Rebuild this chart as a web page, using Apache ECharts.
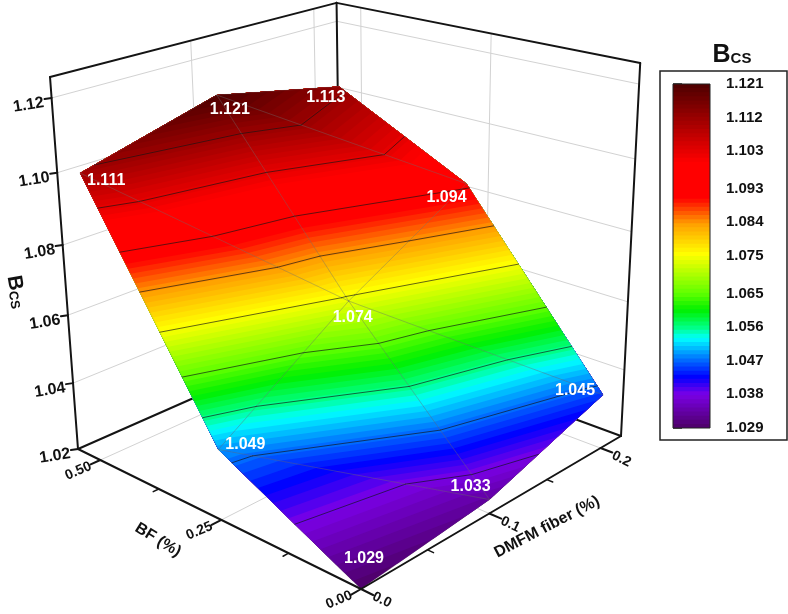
<!DOCTYPE html>
<html>
<head>
<meta charset="utf-8">
<style>
  html, body { margin: 0; background: #fff; }
  #chart { width: 788px; height: 614px; }
</style>
<script src="https://cdn.jsdelivr.net/npm/echarts@6/dist/echarts.min.js"></script>
</head>
<body>
<div id="chart"></div>
<script>
// values
const bfValues = [0, 0.25, 0.5]
const fiberValues = [0, 0.1, 0.2]
const bcsAtBf0 = [1.029, 1.033, 1.045]
const bcsAtBf25 = [1.049, 1.074, 1.094]
const bcsAtBf50 = [1.111, 1.121, 1.113]
const bcsRows = [bcsAtBf0, bcsAtBf25, bcsAtBf50]

const bfTicks = ['0.00', '0.25', '0.50']
const bfMinorTicks = [0.125, 0.375]
const fiberTicks = ['0.0', '0.1', '0.2']
const fiberMinorTicks = [0.05, 0.15]
const bcsTicks = ['1.02', '1.04', '1.06', '1.08', '1.10', '1.12']
const colorbarTicks = [1.029, 1.038, 1.047, 1.056, 1.065, 1.075, 1.084, 1.093, 1.103, 1.112, 1.121]

// colormap
const stopValues = [1.029, 1.038, 1.0426, 1.0480, 1.0530, 1.0560, 1.0605, 1.0650, 1.0755, 1.0835, 1.0905, 1.1000, 1.121]
const stopColors = ['#4d0066', '#7a00e6', '#0000ff', '#0080ff', '#00ffff', '#00ff80', '#00f000', '#60ff00', '#ffff00', '#ffa000', '#ff0000', '#ff0000', '#4d0000']
const bandCount = 84

// axis ranges of the box
const bfRange = [0, 0.55]
const fiberRange = [0, 0.22]
const bcsRange = [1.02, 1.1255]
// in the picture the lowest value sits on the floor, not at its axis height
const surfaceDrop = 0.009

// perspective of the box, from its corners in the picture
const cornerFront = [361, 589]
const cornerLeft = [78, 449]
const cornerBack = [341, 333]
const cornerRight = [621, 436]
const cornerLeftTop = [50, 77]
const vanishing = [400, 4728]

const dx1 = cornerLeft[0] - cornerBack[0], dx2 = cornerRight[0] - cornerBack[0]
const dy1 = cornerLeft[1] - cornerBack[1], dy2 = cornerRight[1] - cornerBack[1]
const sx = cornerFront[0] - cornerLeft[0] + cornerBack[0] - cornerRight[0]
const sy = cornerFront[1] - cornerLeft[1] + cornerBack[1] - cornerRight[1]
const den = dx1 * dy2 - dx2 * dy1
const g = (sx * dy2 - dx2 * sy) / den
const h = (dx1 * sy - sx * dy1) / den
const a = cornerLeft[0] - cornerFront[0] + g * cornerLeft[0]
const b = cornerRight[0] - cornerFront[0] + h * cornerRight[0]
const d = cornerLeft[1] - cornerFront[1] + g * cornerLeft[1]
const e = cornerRight[1] - cornerFront[1] + h * cornerRight[1]
const k = (cornerLeftTop[1] * (g + 1) - (d + cornerFront[1])) / (vanishing[1] - cornerLeftTop[1])

function project(bf, fiber, bcs) {
  const u = (bf - bfRange[0]) / (bfRange[1] - bfRange[0])
  const v = (fiber - fiberRange[0]) / (fiberRange[1] - fiberRange[0])
  const w = (bcs - bcsRange[0]) / (bcsRange[1] - bcsRange[0])
  const q = g * u + h * v + 1 + k * w
  return [
    (a * u + b * v + cornerFront[0] + k * vanishing[0] * w) / q,
    (d * u + e * v + cornerFront[1] + k * vanishing[1] * w) / q
  ]
}

function colorAt(value) {
  let i = 0
  while (i < stopValues.length - 2 && value > stopValues[i + 1]) i++
  const t = Math.min(1, Math.max(0, (value - stopValues[i]) / (stopValues[i + 1] - stopValues[i])))
  const c0 = echarts.color.parse(stopColors[i])
  const c1 = echarts.color.parse(stopColors[i + 1])
  return 'rgb(' + [0, 1, 2].map(n => Math.round(c0[n] + (c1[n] - c0[n]) * t)).join(',') + ')'
}

const bcsMin = colorbarTicks[0]
const bcsMax = colorbarTicks[colorbarTicks.length - 1]
const bands = []
for (let i = 0; i < bandCount; i++) {
  const lo = bcsMin + (bcsMax - bcsMin) * i / bandCount
  const hi = bcsMin + (bcsMax - bcsMin) * (i + 1) / bandCount
  bands.push([lo, hi])
}

// each grid cell is cut in two along the same diagonal as the mesh in the picture
const triangles = []
for (let i = 0; i < bfValues.length - 1; i++) {
  for (let j = 0; j < fiberValues.length - 1; j++) {
    const node = (r, c) => [bfValues[r], fiberValues[c], bcsRows[r][c]]
    triangles.push([node(i, j), node(i + 1, j), node(i, j + 1)])
    triangles.push([node(i + 1, j), node(i + 1, j + 1), node(i, j + 1)])
  }
}

function clipAbove(poly, level) {
  const out = []
  for (let i = 0; i < poly.length; i++) {
    const p = poly[i], n = poly[(i + 1) % poly.length]
    const pIn = p[2] >= level
    const nIn = n[2] >= level
    if (pIn) out.push(p)
    if (pIn !== nIn) {
      const t = (level - p[2]) / (n[2] - p[2])
      out.push([p[0] + (n[0] - p[0]) * t, p[1] + (n[1] - p[1]) * t, level])
    }
  }
  return out
}

function toCanvas(api, bf, fiber, bcs) {
  return api.coord(project(bf, fiber, bcs))
}

function surfaceCanvas(api, p) {
  return toCanvas(api, p[0], p[1], p[2] - surfaceDrop)
}

function segment(p0, p1, color, width) {
  return {
    type: 'line',
    shape: { x1: p0[0], y1: p0[1], x2: p1[0], y2: p1[1] },
    style: { stroke: color, lineWidth: width, lineCap: 'round' }
  }
}

function line(api, from, to, color, width) {
  return segment(toCanvas(api, from[0], from[1], from[2]), toCanvas(api, to[0], to[1], to[2]), color, width)
}

function label(x, y, text, size, rotation, fill) {
  return {
    type: 'text',
    x: x,
    y: y,
    rotation: rotation,
    style: {
      text: text,
      fill: fill || '#111',
      font: 'bold ' + size + 'px "Liberation Sans", Arial, sans-serif',
      align: 'center',
      verticalAlign: 'middle'
    }
  }
}

const bfMax = bfRange[1], fiberMax = fiberRange[1], zLow = bcsRange[0], zTop = bcsRange[1]
const wallColor = '#d2d2d2'
const frameColor = '#141414'

// walls, floor and the back edges, all behind the surface
function renderBack(params, api) {
  const children = []
  bcsTicks.slice(1).forEach(t => {
    const z = +t
    children.push(line(api, [bfMax, 0, z], [bfMax, fiberMax, z], wallColor, 1))
    children.push(line(api, [bfMax, fiberMax, z], [0, fiberMax, z], wallColor, 1))
  })
  fiberTicks.slice(1).forEach(t => {
    children.push(line(api, [bfMax, +t, zLow], [bfMax, +t, zTop], wallColor, 1))
    children.push(line(api, [0, +t, zLow], [bfMax, +t, zLow], wallColor, 1))
  })
  bfTicks.slice(1).forEach(t => {
    children.push(line(api, [+t, fiberMax, zLow], [+t, fiberMax, zTop], wallColor, 1))
    children.push(line(api, [+t, 0, zLow], [+t, fiberMax, zLow], wallColor, 1))
  })
  children.push(line(api, [bfMax, 0, zLow], [bfMax, fiberMax, zLow], frameColor, 2))
  children.push(line(api, [0, fiberMax, zLow], [bfMax, fiberMax, zLow], frameColor, 2))
  children.push(line(api, [bfMax, fiberMax, zLow], [bfMax, fiberMax, zTop], frameColor, 2))
  children.push(line(api, [bfMax, 0, zTop], [bfMax, fiberMax, zTop], frameColor, 2))
  children.push(line(api, [0, fiberMax, zTop], [bfMax, fiberMax, zTop], frameColor, 2))
  return { type: 'group', children: children }
}

// one colour band over the whole surface, painted from the lowest band up
function renderBand(params, api) {
  const band = bands[params.dataIndex]
  const color = colorAt((band[0] + band[1]) / 2)
  const children = []
  triangles.forEach(tri => {
    const poly = clipAbove(tri, band[0])
    if (poly.length < 3) return
    children.push({
      type: 'polygon',
      shape: { points: poly.map(p => surfaceCanvas(api, p)) },
      style: { fill: color }
    })
  })
  return { type: 'group', children: children }
}

// contour lines at the colorbar ticks, and the thin mesh
function renderLines(params, api) {
  const tri = triangles[params.dataIndex]
  const children = []
  colorbarTicks.slice(1, -1).forEach(level => {
    const hits = []
    for (let i = 0; i < 3; i++) {
      const p = tri[i], n = tri[(i + 1) % 3]
      if ((p[2] < level) !== (n[2] < level)) {
        const t = (level - p[2]) / (n[2] - p[2])
        hits.push([p[0] + (n[0] - p[0]) * t, p[1] + (n[1] - p[1]) * t, level])
      }
    }
    if (hits.length === 2) {
      children.push(segment(surfaceCanvas(api, hits[0]), surfaceCanvas(api, hits[1]), 'rgba(20,20,20,0.65)', 1))
    }
  })
  for (let i = 0; i < 3; i++) {
    children.push(segment(surfaceCanvas(api, tri[i]), surfaceCanvas(api, tri[(i + 1) % 3]), 'rgba(110,110,110,0.22)', 1))
  }
  return { type: 'group', children: children }
}

// offsets of the white value labels from their nodes
const valueLabelOffsets = [
  [[3, -30], [-19, -13], [-28, -4]],
  [[27, -5], [4, 17], [-20, 14]],
  [[26, 7], [13, 15], [-13, 11]]
]

function renderValueLabels(params, api) {
  const children = []
  bfValues.forEach((bf, r) => {
    fiberValues.forEach((fiber, c) => {
      const p = surfaceCanvas(api, [bf, fiber, bcsRows[r][c]])
      const off = valueLabelOffsets[r][c]
      children.push(label(p[0] + off[0], p[1] + off[1], bcsRows[r][c].toFixed(3), 16, 0, '#fff'))
    })
  })
  return { type: 'group', children: children }
}

// the two front floor edges, the uprights, ticks and tick labels
function renderFront(params, api) {
  const children = []
  children.push(line(api, [0, 0, zLow], [bfMax, 0, zLow], frameColor, 2))
  children.push(line(api, [0, 0, zLow], [0, fiberMax, zLow], frameColor, 2))
  children.push(line(api, [bfMax, 0, zLow], [bfMax, 0, zTop], frameColor, 2))
  children.push(line(api, [0, fiberMax, zLow], [0, fiberMax, zTop], frameColor, 2))

  bcsTicks.forEach(t => {
    const p = toCanvas(api, bfMax, 0, +t)
    children.push(segment(p, [p[0] - 7, p[1] + 1], frameColor, 2))
    children.push(label(p[0] - 23, p[1] + 7, t, 16, 0.16))
  })
  bfTicks.forEach(t => {
    const p = toCanvas(api, +t, 0, zLow)
    children.push(line(api, [+t, 0, zLow], [+t, -0.007, zLow], frameColor, 2))
    children.push(label(p[0] - 22, p[1] + 11, t, 14, 0.4))
  })
  bfMinorTicks.forEach(t => {
    children.push(line(api, [t, 0, zLow], [t, -0.004, zLow], frameColor, 1.5))
  })
  fiberTicks.forEach(t => {
    const p = toCanvas(api, 0, +t, zLow)
    children.push(line(api, [0, +t, zLow], [-0.02, +t, zLow], frameColor, 2))
    children.push(label(p[0] + 21, p[1] + 11, t, 14, -0.45))
  })
  fiberMinorTicks.forEach(t => {
    children.push(line(api, [0, t, zLow], [-0.01, t, zLow], frameColor, 1.5))
  })

  children.push(label(158, 540, 'BF (%)', 16, -0.55))
  children.push(label(547, 527, 'DMFM fiber (%)', 16, 0.48))
  children.push({
    type: 'text',
    x: 16,
    y: 292,
    rotation: -1.4,
    style: {
      text: '{b|B}{c|CS}',
      align: 'center',
      verticalAlign: 'middle',
      rich: {
        b: { font: 'bold 21px "Liberation Sans", Arial, sans-serif', fill: '#111' },
        c: { font: 'bold 13px "Liberation Sans", Arial, sans-serif', fill: '#111', padding: [7, 0, 0, 0] }
      }
    }
  })
  return { type: 'group', children: children }
}

// colorbar bands are painted from each band's low end to the top of the bar
function renderColorbar(params, api) {
  const band = bands[params.dataIndex]
  const p0 = api.coord([0, band[0]])
  const p1 = api.coord([1, bcsMax])
  return {
    type: 'rect',
    shape: { x: p0[0], y: p1[1], width: p1[0] - p0[0], height: p0[1] - p1[1] },
    style: { fill: colorAt((band[0] + band[1]) / 2) }
  }
}

function renderColorbarEdge(params, api) {
  const p0 = api.coord([0, bcsMin])
  const p1 = api.coord([1, bcsMax])
  return {
    type: 'rect',
    shape: { x: p0[0], y: p1[1], width: p1[0] - p0[0], height: p0[1] - p1[1] },
    style: { fill: 'none', stroke: '#222', lineWidth: 1 }
  }
}

const myChart = echarts.init(document.getElementById('chart'))
const sceneSeries = { type: 'custom', coordinateSystem: 'cartesian2d', xAxisIndex: 0, yAxisIndex: 0, clip: false, silent: true, animation: false }

myChart.setOption({
  animation: false,
  backgroundColor: '#fff',
  title: {
    text: '{b|B}{c|CS}',
    left: 727,
    top: 38,
    textAlign: 'center',
    textStyle: {
      rich: {
        b: { fontFamily: 'Liberation Sans', fontWeight: 'bold', fontSize: 25, color: '#111' },
        c: { fontFamily: 'Liberation Sans', fontWeight: 'bold', fontSize: 15, color: '#111', padding: [7, 0, 0, 0] }
      }
    }
  },
  graphic: [{
    type: 'rect',
    shape: { x: 660, y: 71, width: 127, height: 369 },
    style: { fill: 'none', stroke: '#222', lineWidth: 1.5 }
  }],
  grid: [
    { left: 0, top: 0, right: 0, bottom: 0 },
    { left: 673, top: 84, width: 37, height: 344 }
  ],
  xAxis: [
    { type: 'value', gridIndex: 0, min: 0, max: 788, show: false },
    { type: 'value', gridIndex: 1, min: 0, max: 1, show: false }
  ],
  yAxis: [
    { type: 'value', gridIndex: 0, min: 0, max: 614, inverse: true, show: false },
    {
      type: 'value',
      gridIndex: 1,
      min: bcsMin,
      max: bcsMax,
      position: 'right',
      splitLine: { show: false },
      axisLine: { show: false },
      axisTick: { show: true, customValues: colorbarTicks, length: 9, lineStyle: { color: '#222', width: 1.5 } },
      axisLabel: {
        customValues: colorbarTicks,
        showMinLabel: true,
        showMaxLabel: true,
        margin: 16,
        formatter: v => v.toFixed(3),
        fontFamily: 'Liberation Sans',
        fontWeight: 'bold',
        fontSize: 15,
        color: '#111'
      }
    }
  ],
  series: [
    Object.assign({}, sceneSeries, { name: 'box back', renderItem: renderBack, data: [0], z: 1 }),
    Object.assign({}, sceneSeries, { name: 'surface', renderItem: renderBand, data: bands.map((b, i) => i), z: 2 }),
    Object.assign({}, sceneSeries, { name: 'contours', renderItem: renderLines, data: triangles.map((t, i) => i), z: 3 }),
    Object.assign({}, sceneSeries, { name: 'box front', renderItem: renderFront, data: [0], z: 4 }),
    Object.assign({}, sceneSeries, { name: 'values', renderItem: renderValueLabels, data: [0], z: 5 }),
    { name: 'colorbar', type: 'custom', coordinateSystem: 'cartesian2d', xAxisIndex: 1, yAxisIndex: 1, silent: true, renderItem: renderColorbar, data: bands.map((b, i) => i), z: 2 },
    { name: 'colorbar edge', type: 'custom', coordinateSystem: 'cartesian2d', xAxisIndex: 1, yAxisIndex: 1, silent: true, clip: false, renderItem: renderColorbarEdge, data: [0], z: 3 }
  ]
})
</script>
</body>
</html>
